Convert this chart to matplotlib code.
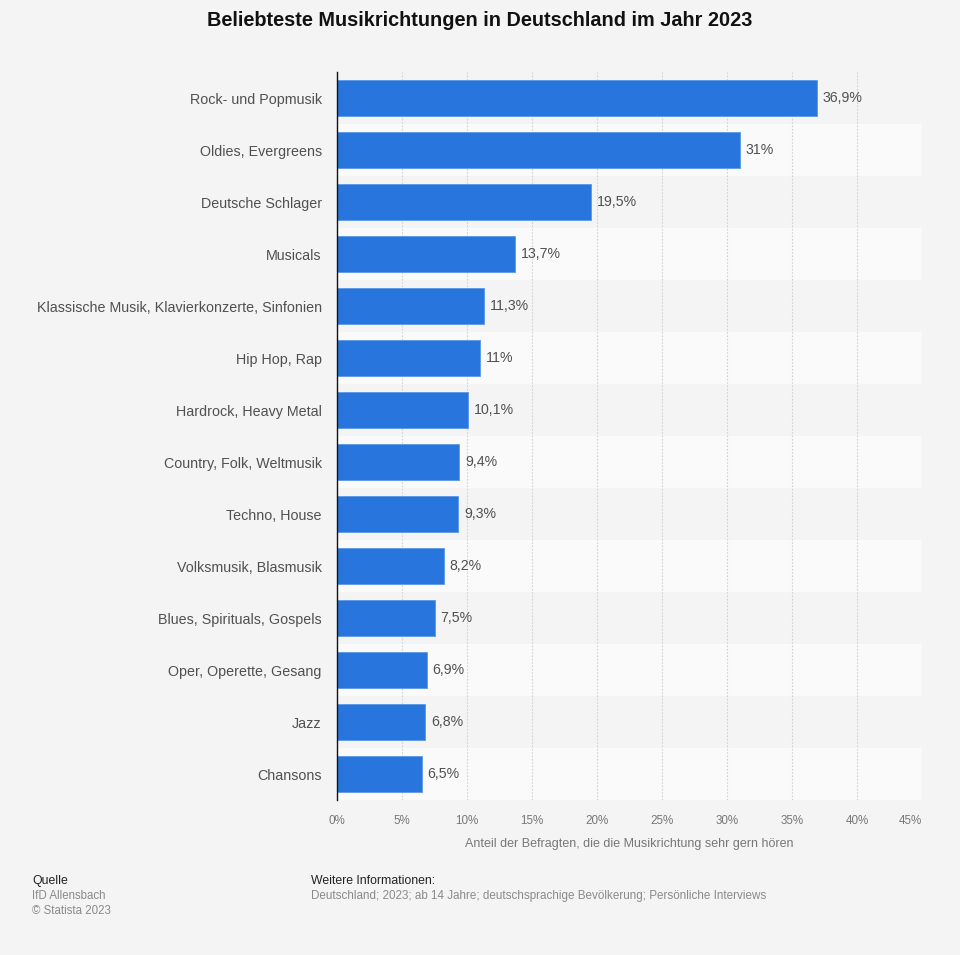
import numpy as np
import matplotlib.pyplot as plt

# data
genres = ["Rock- und Popmusik", "Oldies, Evergreens", "Deutsche Schlager", "Musicals",
          "Klassische Musik, Klavierkonzerte, Sinfonien", "Hip Hop, Rap",
          "Hardrock, Heavy Metal", "Country, Folk, Weltmusik", "Techno, House",
          "Volksmusik, Blasmusik", "Blues, Spirituals, Gospels", "Oper, Operette, Gesang",
          "Jazz", "Chansons"]
shares = [36.9, 31.0, 19.5, 13.7, 11.3, 11.0, 10.1, 9.4, 9.3, 8.2, 7.5, 6.9, 6.8, 6.5]
value_labels = ["36,9%", "31%", "19,5%", "13,7%", "11,3%", "11%", "10,1%", "9,4%",
                "9,3%", "8,2%", "7,5%", "6,9%", "6,8%", "6,5%"]
xticks = [0, 5, 10, 15, 20, 25, 30, 35, 40, 45]
xtick_labels = ["0%", "5%", "10%", "15%", "20%", "25%", "30%", "35%", "40%", "45%"]

plt.rcParams['font.family'] = ['Liberation Sans', 'DejaVu Sans']

W, H = 960, 955
fig = plt.figure(figsize=(W / 100, H / 100), dpi=100, facecolor='#f4f4f4')
ax = fig.add_axes([337 / W, 1 - 800 / H, (922 - 337) / W, (800 - 72) / H])
ax.set_facecolor('#f4f4f4')

n = len(genres)
ys = np.arange(n)

# alternating row stripes
for i in range(n):
    ax.axhspan(i - 0.5, i + 0.5, color='#f4f4f4' if i % 2 == 0 else '#fafafa', zorder=0, lw=0)

ax.barh(ys, shares, height=0.68, color='#2876dd', edgecolor='#5b98e6', linewidth=0.6, zorder=3)

for y, v, lab in zip(ys, shares, value_labels):
    ax.annotate(lab, (v, y), xytext=(6, 0), textcoords='offset pixels',
                va='center', ha='left', fontsize=10.2, color='#505050', zorder=4)

ax.set_xlim(0, 45)
ax.set_ylim(n - 0.5, -0.5)
ax.set_yticks(ys)
ax.set_yticklabels(genres, fontsize=10.3, color='#505050')
ax.set_xticks(xticks)
ax.set_xticklabels(xtick_labels, fontsize=8.4, color='#777777')
ax.tick_params(axis='y', length=0, pad=11)
ax.tick_params(axis='x', length=0, pad=11)
ax.get_xticklabels()[-1].set_horizontalalignment('right')

ax.grid(axis='x', color='#d2d2d2', linestyle=(0, (1.5, 1.5)), linewidth=0.8, zorder=1)
ax.set_axisbelow(True)
for s in ['top', 'right', 'bottom']:
    ax.spines[s].set_visible(False)
ax.spines['left'].set_color('#111111')
ax.spines['left'].set_linewidth(1.0)
ax.spines['left'].set_zorder(5)

ax.set_xlabel("Anteil der Befragten, die die Musikrichtung sehr gern hören",
              fontsize=9, color='#777777', labelpad=8)

fig.text(480 / W, 1 - 21 / H, "Beliebteste Musikrichtungen in Deutschland im Jahr 2023",
         ha='center', va='center', fontsize=14.3, fontweight='bold', color='#111111')

fig.text(32 / W, 1 - 881 / H, "Quelle", fontsize=8.8, color='#222222', va='center')
fig.text(32 / W, 1 - 896 / H, "IfD Allensbach", fontsize=8.3, color='#8a8a8a', va='center')
fig.text(32 / W, 1 - 911 / H, "© Statista 2023", fontsize=8.3, color='#8a8a8a', va='center')
fig.text(311 / W, 1 - 881 / H, "Weitere Informationen:", fontsize=8.8, color='#222222', va='center')
fig.text(311 / W, 1 - 896 / H,
         "Deutschland; 2023; ab 14 Jahre; deutschsprachige Bevölkerung; Persönliche Interviews",
         fontsize=8.4, color='#8a8a8a', va='center')

fig.savefig('out.png', dpi=100, facecolor=fig.get_facecolor())
